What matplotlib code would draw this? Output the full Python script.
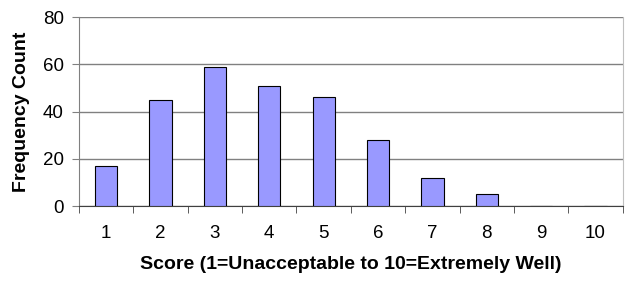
import matplotlib.pyplot as plt
import numpy as np

plt.rcParams['font.family'] = ['Liberation Sans', 'DejaVu Sans']

scores = ['1', '2', '3', '4', '5', '6', '7', '8', '9', '10']
counts = [17, 45, 59, 51, 46, 28, 12, 5, 0, 0]

fig = plt.figure(figsize=(6.29, 2.82), dpi=100)
ax = fig.add_axes([0.1256, 0.2695, 0.8644, 0.6702])

x = np.arange(1, len(scores) + 1)
ax.bar(x, counts, width=0.41, color='#9999FF', edgecolor='black', linewidth=0.8, zorder=3)

ax.set_xlim(0.5, len(scores) + 0.5)
ax.set_ylim(0, 80)
ax.set_yticks([0, 20, 40, 60, 80])
ax.grid(axis='y', color='#808080', linewidth=1.0, zorder=0)

# category labels centred, tick marks between categories
ax.set_xticks(x)
ax.set_xticklabels(scores)
ax.tick_params(axis='x', which='major', length=0, pad=14, labelsize=13.5)
ax.set_xticks(np.arange(0.5, len(scores) + 1), minor=True)
ax.tick_params(axis='x', which='minor', length=5, direction='out', color='#404040')
ax.tick_params(axis='y', length=5, direction='out', color='#808080', labelsize=13.5, pad=6)

ax.spines['top'].set_visible(False)
ax.spines['left'].set_color('#808080')
ax.spines['right'].set_color('#c0c0c0')
ax.spines['bottom'].set_color('#404040')

ax.set_xlabel('Score (1=Unacceptable to 10=Extremely Well)', fontsize=14, fontweight='bold', labelpad=10)
ax.set_ylabel('Frequency Count', fontsize=14, fontweight='bold', labelpad=9)

fig.savefig('out.png', dpi=100)
